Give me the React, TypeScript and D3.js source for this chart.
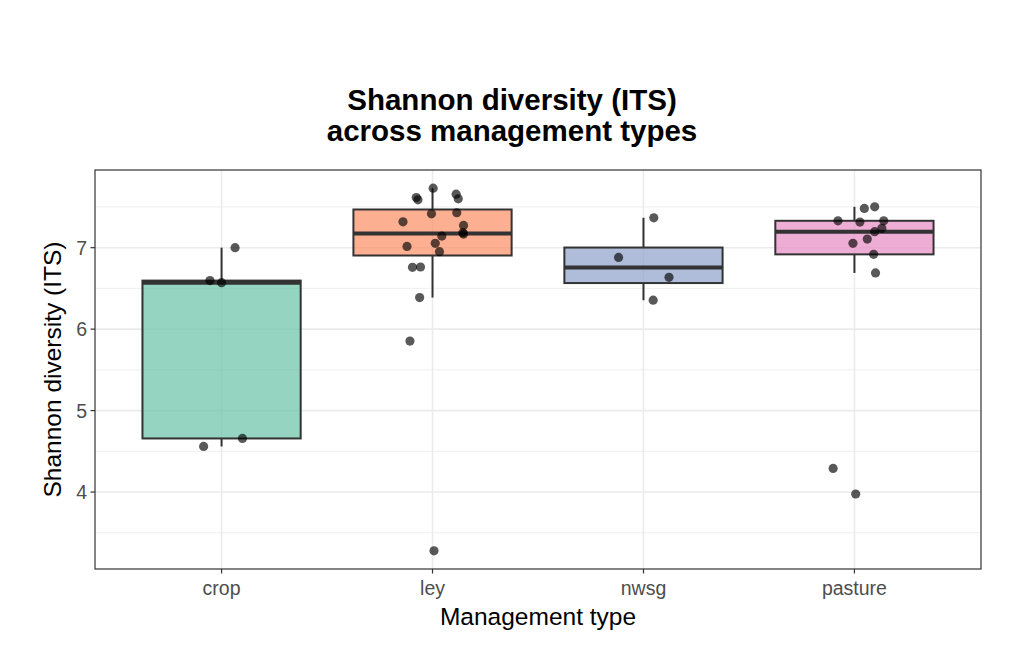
import React from 'react';
import * as d3 from 'd3';

const categories = ['crop', 'ley', 'nwsg', 'pasture'];
const colors = ['#66C2A5', '#FC8D62', '#8DA0CB', '#E78AC3'];

// Shannon values, with the jitter offset (in category units) of each dot
const cropValues = [7.0, 6.596, 6.57, 4.658, 4.56];
const cropJitter = [0.064, -0.055, 0.0, 0.099, -0.085];

const leyValues = [
  7.731, 7.616, 7.588, 7.657, 7.6, 7.416, 7.429, 7.318, 7.273, 7.184,
  7.167, 7.143, 7.053, 7.016, 6.951, 6.759, 6.763, 6.388, 5.853, 3.278,
];
const leyJitter = [
  0.003, -0.077, -0.069, 0.112, 0.122, -0.005, 0.115, -0.14, 0.147, 0.144,
  0.147, 0.044, 0.013, -0.121, 0.033, -0.095, -0.057, -0.061, -0.107, 0.007,
];

const nwsgValues = [7.367, 6.88, 6.636, 6.355];
const nwsgJitter = [0.049, -0.118, 0.121, 0.046];

const pastureValues = [
  7.482, 7.502, 7.33, 7.314, 7.33, 7.237, 7.196, 7.106, 7.053, 6.918,
  6.69, 4.29, 3.976,
];
const pastureJitter = [
  0.047, 0.096, -0.078, 0.026, 0.139, 0.13, 0.096, 0.061, -0.007, 0.091,
  0.1, -0.101, 0.006,
];

const yTicks = [4, 5, 6, 7];
const yMinor = [3.5, 4.5, 5.5, 6.5, 7.5];

const groups = [
  { name: categories[0], values: cropValues, jitter: cropJitter, color: colors[0] },
  { name: categories[1], values: leyValues, jitter: leyJitter, color: colors[1] },
  { name: categories[2], values: nwsgValues, jitter: nwsgJitter, color: colors[2] },
  { name: categories[3], values: pastureValues, jitter: pastureJitter, color: colors[3] },
];

const W = 1024;
const H = 663;
const panel = { left: 95, right: 981, top: 170, bottom: 569 };
const font = "'Liberation Sans', Arial, Helvetica, sans-serif";

function boxStats(vals: number[]) {
  const s = [...vals].sort(d3.ascending);
  const q1 = d3.quantile(s, 0.25)!;
  const med = d3.quantile(s, 0.5)!;
  const q3 = d3.quantile(s, 0.75)!;
  const iqr = q3 - q1;
  const lo = d3.min(s.filter(v => v >= q1 - 1.5 * iqr))!;
  const hi = d3.max(s.filter(v => v <= q3 + 1.5 * iqr))!;
  return { q1, med, q3, lo, hi };
}

const App: React.FC = () => {
  const all = groups.flatMap(g => g.values);
  const [mn, mx] = d3.extent(all) as [number, number];
  const pad = (mx - mn) * 0.05;

  const x = d3.scalePoint<string>()
    .domain(categories)
    .range([panel.left, panel.right])
    .padding(0.6);
  const step = x.step();
  const boxW = step * 0.75;

  const y = d3.scaleLinear()
    .domain([mn - pad, mx + pad])
    .range([panel.bottom, panel.top]);

  const dark = '#333333';
  const pw = panel.right - panel.left;
  const ph = panel.bottom - panel.top;
  const cx = (panel.left + panel.right) / 2;
  const cy = (panel.top + panel.bottom) / 2;

  return (
    <svg width={W} height={H} style={{ position: 'absolute', left: 0, top: 0 }} fontFamily={font}>
      <rect width={W} height={H} fill="#fff" />

      {/* grid */}
      <g>
        {yMinor.map(t => (
          <line key={'m' + t} x1={panel.left} x2={panel.right} y1={y(t)} y2={y(t)} stroke="#ebebeb" strokeWidth={0.8} />
        ))}
        {yTicks.map(t => (
          <line key={'M' + t} x1={panel.left} x2={panel.right} y1={y(t)} y2={y(t)} stroke="#ebebeb" strokeWidth={1.6} />
        ))}
        {categories.map(c => (
          <line key={'v' + c} x1={x(c)} x2={x(c)} y1={panel.top} y2={panel.bottom} stroke="#ebebeb" strokeWidth={1.6} />
        ))}
      </g>

      {/* boxes */}
      {groups.map(g => {
        const st = boxStats(g.values);
        const c = x(g.name)!;
        return (
          <g key={g.name}>
            <line x1={c} x2={c} y1={y(st.q3)} y2={y(st.hi)} stroke={dark} strokeWidth={2} />
            <line x1={c} x2={c} y1={y(st.q1)} y2={y(st.lo)} stroke={dark} strokeWidth={2} />
            <rect
              x={c - boxW / 2}
              width={boxW}
              y={y(st.q3)}
              height={y(st.q1) - y(st.q3)}
              fill={g.color}
              fillOpacity={0.7}
              stroke={dark}
              strokeWidth={2}
            />
            <line x1={c - boxW / 2} x2={c + boxW / 2} y1={y(st.med)} y2={y(st.med)} stroke={dark} strokeWidth={4} />
          </g>
        );
      })}

      {/* jittered points */}
      {groups.map(g => (
        <g key={'p' + g.name}>
          {g.values.map((v, i) => (
            <circle
              key={i}
              cx={x(g.name)! + g.jitter[i] * step}
              cy={y(v)}
              r={4.6}
              fill="#000"
              fillOpacity={0.65}
            />
          ))}
        </g>
      ))}

      {/* panel border */}
      <rect x={panel.left} y={panel.top} width={pw} height={ph} fill="none" stroke="#333333" strokeWidth={1.2} />

      {/* y axis */}
      {yTicks.map(t => (
        <g key={'yt' + t}>
          <line x1={panel.left - 4.5} x2={panel.left} y1={y(t)} y2={y(t)} stroke="#333333" strokeWidth={1.2} />
          <text x={panel.left - 8} y={y(t)} dy="0.36em" textAnchor="end" fontSize={19.5} fill="#4d4d4d">
            {t}
          </text>
        </g>
      ))}

      {/* x axis */}
      {categories.map(c => (
        <g key={'xt' + c}>
          <line x1={x(c)} x2={x(c)} y1={panel.bottom} y2={panel.bottom + 4.5} stroke="#333333" strokeWidth={1.2} />
          <text x={x(c)} y={panel.bottom + 26} textAnchor="middle" fontSize={19.5} fill="#4d4d4d">
            {c}
          </text>
        </g>
      ))}

      <text x={cx} y={625} textAnchor="middle" fontSize={24.5} fill="#000">Management type</text>
      <text
        transform={`translate(61,${cy}) rotate(-90)`}
        textAnchor="middle"
        fontSize={24.5}
        fill="#000"
      >
        Shannon diversity (ITS)
      </text>

      <text x={512} y={110} textAnchor="middle" fontSize={29.5} fontWeight="bold" fill="#000">
        Shannon diversity (ITS)
      </text>
      <text x={512} y={141} textAnchor="middle" fontSize={29.5} fontWeight="bold" fill="#000">
        across management types
      </text>
    </svg>
  );
};

export default App;
